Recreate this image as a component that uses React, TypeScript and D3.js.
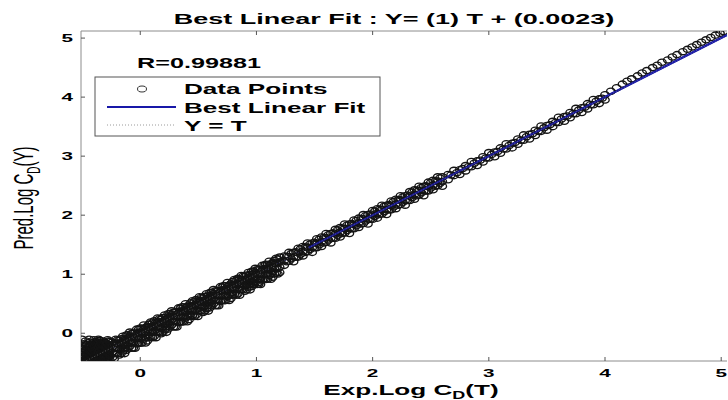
import React from 'react';
import * as d3 from 'd3';

const W = 728;
const H = 400;

const xTicks = [0, 1, 2, 3, 4, 5];
const yTicks = [0, 1, 2, 3, 4, 5];
const xDomain = [-0.51, 5.05];
const yDomain = [-0.47, 5.12];
const fitSlope = 1;
const fitIntercept = 0.0023;
const fitVisibleFrom = 1.45;
const titleText = 'Best Linear Fit : Y= (1) T + (0.0023)';
const rText = 'R=0.99881';
const legendLabels = ['Data Points', 'Best Linear Fit', 'Y = T'];

// rows: [T, Y1, Y2, ...]
const blobRows = [
  [-0.50, -0.47, -0.40, -0.33, -0.26, -0.10],
  [-0.49, -0.46, -0.39, -0.32, -0.25, -0.18],
  [-0.48, -0.45, -0.38, -0.30, -0.22],
  [-0.47, -0.44, -0.36, -0.28, -0.20, -0.13],
  [-0.46, -0.47, -0.42, -0.35, -0.27, -0.19],
  [-0.45, -0.47, -0.40, -0.32, -0.24],
  [-0.44, -0.44, -0.37, -0.29, -0.21, -0.10],
  [-0.43, -0.45, -0.38, -0.31, -0.23, -0.15],
  [-0.42, -0.46, -0.40, -0.33, -0.25, -0.17],
  [-0.41, -0.47, -0.41, -0.34, -0.27, -0.19],
  [-0.40, -0.43, -0.36, -0.28, -0.20, -0.11],
  [-0.39, -0.44, -0.37, -0.30, -0.22, -0.14],
  [-0.38, -0.47, -0.41, -0.34, -0.26, -0.18],
  [-0.37, -0.46, -0.40, -0.33, -0.25, -0.17],
  [-0.36, -0.44, -0.38, -0.31, -0.23, -0.15, -0.10],
  [-0.35, -0.43, -0.36, -0.28, -0.20, -0.12],
  [-0.34, -0.46, -0.40, -0.33, -0.25, -0.17],
  [-0.33, -0.47, -0.41, -0.34, -0.26, -0.18],
  [-0.32, -0.43, -0.36, -0.29, -0.21, -0.13],
  [-0.31, -0.44, -0.38, -0.31, -0.23, -0.15],
  [-0.30, -0.45, -0.39, -0.32, -0.24, -0.16],
  [-0.29, -0.46, -0.40, -0.33, -0.25, -0.17],
  [-0.28, -0.42, -0.35, -0.27, -0.19, -0.11],
  [-0.27, -0.43, -0.36, -0.29, -0.21, -0.13],
  [-0.26, -0.46, -0.38, -0.30, -0.22, -0.14],
];

const bandRows = [
  [-0.24, -0.41, -0.32, -0.23, -0.15],
  [-0.225, -0.435, -0.345, -0.255, -0.175],
  [-0.21, -0.34, -0.25, -0.17, -0.10],
  [-0.195, -0.345, -0.255, -0.165, -0.115],
  [-0.18, -0.37, -0.28, -0.20, -0.12],
  [-0.165, -0.345, -0.255, -0.165, -0.095],
  [-0.15, -0.30, -0.21, -0.13, -0.05],
  [-0.135, -0.345, -0.255, -0.165, -0.085],
  [-0.12, -0.29, -0.20, -0.11, -0.03],
  [-0.105, -0.255, -0.165, -0.075, -0.025],
  [-0.09, -0.22, -0.13, -0.05, 0.02],
  [-0.075, -0.255, -0.165, -0.075, -0.005],
  [-0.06, -0.25, -0.16, -0.08, 0.00],
  [-0.045, -0.255, -0.165, -0.075, 0.005],
  [-0.03, -0.18, -0.09, -0.01, 0.07],
  [-0.015, -0.165, -0.075, 0.015, 0.065],
  [0.00, -0.17, -0.08, 0.01, 0.09],
  [0.015, -0.165, -0.075, 0.015, 0.085],
  [0.03, -0.10, -0.01, 0.07, 0.14],
  [0.045, -0.165, -0.075, 0.015, 0.095],
  [0.06, -0.13, -0.04, 0.04, 0.12],
  [0.075, -0.075, 0.015, 0.105, 0.155],
  [0.09, -0.06, 0.03, 0.11, 0.19],
  [0.105, -0.075, 0.015, 0.105, 0.175],
  [0.12, -0.05, 0.04, 0.13, 0.21],
  [0.135, -0.075, 0.015, 0.105, 0.185],
  [0.15, 0.02, 0.11, 0.19, 0.26],
  [0.165, 0.015, 0.105, 0.195, 0.245],
  [0.18, -0.01, 0.08, 0.16, 0.24],
  [0.195, 0.015, 0.105, 0.195, 0.265],
  [0.21, 0.06, 0.15, 0.23, 0.31],
  [0.225, 0.015, 0.105, 0.195, 0.275],
  [0.24, 0.07, 0.16, 0.25, 0.33],
  [0.255, 0.105, 0.195, 0.285, 0.335],
  [0.27, 0.14, 0.23, 0.31, 0.38],
  [0.285, 0.105, 0.195, 0.285, 0.355],
  [0.30, 0.11, 0.20, 0.28, 0.36],
  [0.315, 0.105, 0.195, 0.285, 0.365],
  [0.33, 0.18, 0.27, 0.35, 0.43],
  [0.345, 0.195, 0.285, 0.375, 0.425],
  [0.36, 0.19, 0.28, 0.37, 0.45],
  [0.375, 0.195, 0.285, 0.375, 0.445],
  [0.39, 0.26, 0.35, 0.43, 0.50],
  [0.405, 0.195, 0.285, 0.375, 0.455],
  [0.42, 0.23, 0.32, 0.40, 0.48],
  [0.435, 0.285, 0.375, 0.465, 0.515],
  [0.45, 0.30, 0.39, 0.47, 0.55],
  [0.465, 0.285, 0.375, 0.465, 0.535],
  [0.48, 0.31, 0.40, 0.49, 0.57],
  [0.495, 0.285, 0.375, 0.465, 0.545],
  [0.51, 0.38, 0.47, 0.55, 0.62],
  [0.525, 0.375, 0.465, 0.555, 0.605],
  [0.54, 0.35, 0.44, 0.52, 0.60],
  [0.555, 0.375, 0.465, 0.555, 0.625],
  [0.57, 0.42, 0.51, 0.59, 0.67],
  [0.585, 0.375, 0.465, 0.555, 0.635],
  [0.60, 0.43, 0.52, 0.61, 0.69],
  [0.615, 0.465, 0.555, 0.645, 0.695],
  [0.63, 0.50, 0.59, 0.67, 0.74],
  [0.645, 0.465, 0.555, 0.645, 0.715],
  [0.66, 0.47, 0.56, 0.64, 0.72],
  [0.675, 0.465, 0.555, 0.645, 0.725],
  [0.69, 0.54, 0.63, 0.71, 0.79],
  [0.705, 0.555, 0.645, 0.735, 0.785],
  [0.72, 0.55, 0.64, 0.73, 0.81],
  [0.735, 0.555, 0.645, 0.735, 0.805],
  [0.75, 0.62, 0.71, 0.79, 0.86],
  [0.765, 0.555, 0.645, 0.735, 0.815],
  [0.78, 0.59, 0.68, 0.76, 0.84],
  [0.795, 0.645, 0.735, 0.825, 0.875],
  [0.81, 0.66, 0.75, 0.83, 0.91],
  [0.825, 0.645, 0.735, 0.825, 0.895],
  [0.84, 0.67, 0.76, 0.85, 0.93],
  [0.855, 0.645, 0.735, 0.825, 0.905],
  [0.87, 0.74, 0.83, 0.91, 0.98],
  [0.885, 0.735, 0.825, 0.915, 0.965],
  [0.90, 0.71, 0.80, 0.88, 0.96],
  [0.915, 0.735, 0.825, 0.915, 0.985],
  [0.93, 0.78, 0.87, 0.95, 1.03],
  [0.945, 0.735, 0.825, 0.915, 0.995],
  [0.96, 0.79, 0.88, 0.97, 1.05],
  [0.975, 0.825, 0.915, 1.005, 1.055],
  [0.99, 0.86, 0.95, 1.03, 1.10],
  [1.005, 0.825, 0.915, 1.005, 1.075],
  [1.02, 0.83, 0.92, 1.00, 1.08],
  [1.035, 0.825, 0.915, 1.005, 1.085],
  [1.05, 0.90, 0.99, 1.07, 1.15],
  [1.065, 0.915, 1.005, 1.095, 1.145],
  [1.08, 0.91, 1.00, 1.09, 1.17],
  [1.095, 0.915, 1.005, 1.095, 1.165],
  [1.11, 0.98, 1.07, 1.15, 1.22],
  [1.125, 0.915, 1.005, 1.095, 1.175],
  [1.14, 0.95, 1.04, 1.12, 1.20],
  [1.155, 1.005, 1.095, 1.185, 1.235],
  [1.17, 1.02, 1.11, 1.19, 1.27],
  [1.185, 1.005, 1.095, 1.185, 1.255],
  [1.20, 1.03, 1.12, 1.21, 1.29],
];

const outlierRows = [
  [0.90, 0.82],
  [0.94, 0.84],
  [0.98, 0.83],
  [1.02, 0.86],
];

const midRows = [
  [1.24, 1.15, 1.23, 1.31],
  [1.26, 1.21, 1.30],
  [1.28, 1.22, 1.30, 1.37],
  [1.30, 1.26, 1.35],
  [1.32, 1.21, 1.29, 1.37],
  [1.34, 1.29, 1.38],
  [1.36, 1.29, 1.36, 1.44],
  [1.38, 1.34, 1.43],
  [1.40, 1.31, 1.39, 1.47],
  [1.42, 1.37, 1.46],
  [1.44, 1.38, 1.46, 1.53],
  [1.46, 1.42, 1.51],
  [1.48, 1.37, 1.45, 1.53],
  [1.50, 1.45, 1.54],
  [1.52, 1.45, 1.52, 1.60],
  [1.54, 1.50, 1.59],
  [1.56, 1.47, 1.55, 1.63],
  [1.58, 1.53, 1.62],
  [1.60, 1.54, 1.62, 1.69],
  [1.62, 1.58, 1.67],
  [1.64, 1.53, 1.61, 1.69],
  [1.66, 1.61, 1.70],
  [1.68, 1.61, 1.68, 1.76],
  [1.70, 1.66, 1.75],
  [1.72, 1.63, 1.71, 1.79],
  [1.74, 1.69, 1.78],
  [1.76, 1.70, 1.78, 1.85],
  [1.78, 1.74, 1.83],
  [1.80, 1.69, 1.77, 1.85],
  [1.82, 1.77, 1.86],
  [1.84, 1.77, 1.84, 1.92],
  [1.86, 1.82, 1.91],
  [1.88, 1.79, 1.87, 1.95],
  [1.90, 1.85, 1.94],
  [1.92, 1.86, 1.94, 2.01],
  [1.94, 1.90, 1.99],
  [1.96, 1.85, 1.93, 2.01],
  [1.98, 1.93, 2.02],
  [2.00, 1.93, 2.00, 2.08],
  [2.02, 1.98, 2.07],
  [2.04, 1.95, 2.03, 2.11],
  [2.06, 2.01, 2.10],
  [2.08, 2.02, 2.10, 2.17],
  [2.10, 2.06, 2.15],
  [2.12, 2.01, 2.09, 2.17],
  [2.14, 2.09, 2.18],
  [2.16, 2.09, 2.16, 2.24],
  [2.18, 2.14, 2.23],
  [2.20, 2.11, 2.19, 2.27],
  [2.22, 2.17, 2.26],
  [2.24, 2.18, 2.26, 2.33],
  [2.26, 2.22, 2.31],
  [2.28, 2.17, 2.25, 2.33],
  [2.30, 2.25, 2.34],
  [2.32, 2.25, 2.32, 2.40],
  [2.34, 2.30, 2.39],
  [2.36, 2.27, 2.35, 2.43],
  [2.38, 2.33, 2.42],
  [2.40, 2.34, 2.42, 2.49],
  [2.42, 2.38, 2.47],
  [2.44, 2.33, 2.41, 2.49],
  [2.46, 2.41, 2.50],
  [2.48, 2.41, 2.48, 2.56],
  [2.50, 2.46, 2.55],
  [2.52, 2.43, 2.51, 2.59],
  [2.54, 2.49, 2.58],
  [2.56, 2.50, 2.58, 2.65],
  [2.58, 2.54, 2.63],
  [2.60, 2.49, 2.57, 2.65],
];

const upperRows = [
  [2.65, 2.60, 2.69], [2.675, 2.68],
  [2.70, 2.67, 2.76], [2.725, 2.72],
  [2.75, 2.69, 2.77], [2.775, 2.79],
  [2.80, 2.75, 2.84], [2.825, 2.82],
  [2.85, 2.82, 2.91], [2.875, 2.88],
  [2.90, 2.84, 2.92], [2.925, 2.93],
  [2.95, 2.90, 2.99], [2.975, 2.97],
  [3.00, 2.97, 3.06], [3.025, 3.03],
  [3.05, 2.99, 3.07], [3.075, 3.08],
  [3.10, 3.05, 3.14], [3.125, 3.12],
  [3.15, 3.12, 3.21], [3.175, 3.18],
  [3.20, 3.14, 3.22], [3.225, 3.23],
  [3.25, 3.20, 3.29], [3.275, 3.27],
  [3.30, 3.27, 3.36], [3.325, 3.33],
  [3.35, 3.29, 3.37], [3.375, 3.38],
  [3.40, 3.35, 3.44], [3.425, 3.42],
  [3.45, 3.42, 3.51], [3.475, 3.48],
  [3.50, 3.44, 3.52], [3.525, 3.53],
  [3.55, 3.50, 3.59], [3.575, 3.57],
  [3.60, 3.57, 3.66], [3.625, 3.63],
  [3.65, 3.59, 3.67], [3.675, 3.68],
  [3.70, 3.65, 3.74], [3.725, 3.72],
  [3.75, 3.72, 3.81], [3.775, 3.78],
  [3.80, 3.74, 3.82], [3.825, 3.83],
  [3.85, 3.80, 3.89], [3.875, 3.87],
  [3.90, 3.87, 3.96], [3.925, 3.93],
  [3.95, 3.89, 3.97], [3.975, 3.98],
  [4.00, 3.95, 4.04],
];

const topRows = [
  [4.05, 4.10], [4.10, 4.16], [4.15, 4.22], [4.19, 4.27], [4.23, 4.31],
  [4.28, 4.36], [4.32, 4.41], [4.36, 4.45], [4.41, 4.50], [4.45, 4.54],
  [4.49, 4.59], [4.54, 4.63], [4.58, 4.68], [4.62, 4.72], [4.67, 4.77],
  [4.71, 4.81], [4.75, 4.85], [4.79, 4.89], [4.83, 4.93], [4.87, 4.97],
  [4.91, 5.01], [4.95, 5.05], [4.99, 5.08], [5.02, 5.11],
];

const allRows = [...blobRows, ...bandRows, ...outlierRows, ...midRows, ...upperRows, ...topRows];
const points: [number, number][] = allRows.flatMap(([t, ...ys]) => ys.map((y) => [t, y] as [number, number]));

const FONT = '"Liberation Sans", Arial, Helvetica, sans-serif';
const SX = 1.8;

const plot = { left: 81, right: 727, top: 31, bottom: 361 };

function SText(props: any) {
  const { x, y, anchor = 'start', size = 14, weight = 'bold', fill = '#000', children } = props;
  return (
    <text
      transform={`translate(${x},${y}) scale(${SX},1)`}
      textAnchor={anchor}
      fontSize={size}
      fontWeight={weight}
      fontFamily={FONT}
      fill={fill}
    >
      {children}
    </text>
  );
}

export default function App() {
  const x = d3.scaleLinear().domain(xDomain).range([plot.left, plot.right]);
  const y = d3.scaleLinear().domain(yDomain).range([plot.bottom, plot.top]);

  const fitLine = d3
    .line<number>()
    .x((t) => x(t))
    .y((t) => y(fitSlope * t + fitIntercept));
  const idLine = d3
    .line<number>()
    .x((t) => x(t))
    .y((t) => y(t));
  const lineTs = [xDomain[0], xDomain[1]];
  const upperTs = [fitVisibleFrom, xDomain[1]];

  const axisColor = '#8c8c8c';
  const lg = { x0: 95, y0: 77, x1: 380, y1: 136 };

  return (
    <svg
      width={W}
      height={H}
      viewBox={`0 0 ${W} ${H}`}
      style={{ position: 'absolute', left: 0, top: 0, background: '#fff' }}
    >
      <defs>
        <clipPath id="plotClip">
          <rect x={plot.left} y={plot.top} width={plot.right - plot.left} height={plot.bottom - plot.top} />
        </clipPath>
      </defs>
      <rect x={0} y={0} width={W} height={H} fill="#fff" />

      {/* axes box */}
      <line x1={plot.left} x2={plot.left} y1={plot.top} y2={plot.bottom} stroke={axisColor} />
      <line x1={plot.left} x2={plot.right} y1={plot.bottom} y2={plot.bottom} stroke={axisColor} />
      <line x1={plot.left} x2={plot.right} y1={plot.top} y2={plot.top} stroke={axisColor} />

      {xTicks.map((t) => (
        <g key={'xt' + t}>
          <line x1={x(t)} x2={x(t)} y1={plot.bottom} y2={plot.bottom - 4} stroke="#555" />
          <line x1={x(t)} x2={x(t)} y1={plot.top} y2={plot.top + 4} stroke="#555" />
          <SText x={x(t)} y={377} anchor="middle" size={11.5}>
            {String(t)}
          </SText>
        </g>
      ))}
      {yTicks.map((t) => (
        <g key={'yt' + t}>
          <line x1={plot.left} x2={plot.left + 4} y1={y(t)} y2={y(t)} stroke="#555" />
          <SText x={73} y={y(t) + 4} anchor="end" size={11.5}>
            {String(t)}
          </SText>
        </g>
      ))}

      <g clipPath="url(#plotClip)">
        <path d={fitLine(lineTs) || ''} fill="none" stroke="#1818a8" strokeWidth={2.4} />
        {points.map(([t, v], i) => (
          <ellipse key={i} cx={x(t)} cy={y(v)} rx={4.2} ry={3.1} fill="none" stroke="#141414" strokeWidth={1.35} />
        ))}
        <path d={fitLine(upperTs) || ''} fill="none" stroke="#1818a8" strokeWidth={2} opacity={0.85} />
        <path d={idLine(lineTs) || ''} fill="none" stroke="#9a9a9a" strokeWidth={1} strokeDasharray="1,2" opacity={0.5} />
      </g>

      {/* title */}
      <SText x={394} y={24} anchor="middle" size={15}>
        {titleText}
      </SText>

      {/* R value */}
      <SText x={137} y={68} size={14}>
        {rText}
      </SText>

      {/* legend */}
      <rect x={lg.x0} y={lg.y0} width={lg.x1 - lg.x0} height={lg.y1 - lg.y0} fill="#fff" stroke="#555" strokeWidth={1} />
      <ellipse cx={142} cy={89} rx={4.5} ry={3} fill="none" stroke="#333" strokeWidth={1} />
      <line x1={107} x2={176} y1={107} y2={107} stroke="#1818a8" strokeWidth={2.2} />
      <line x1={107} x2={176} y1={125} y2={125} stroke="#9a9a9a" strokeWidth={1} strokeDasharray="1,2" />
      <SText x={184} y={94} size={14.5}>
        {legendLabels[0]}
      </SText>
      <SText x={184} y={113} size={14.5}>
        {legendLabels[1]}
      </SText>
      <SText x={184} y={131} size={14.5}>
        {legendLabels[2]}
      </SText>

      {/* x label */}
      <text
        transform={`translate(411,395) scale(${SX},1)`}
        textAnchor="middle"
        fontSize={14.5}
        fontWeight="bold"
        fontFamily={FONT}
      >
        Exp.Log C<tspan fontSize={10} dy={4}>D</tspan>
        <tspan dy={-4}>(T)</tspan>
      </text>

      {/* y label */}
      <text
        transform={`translate(33,198) scale(${SX},1) rotate(-90)`}
        textAnchor="middle"
        fontSize={15}
        fontWeight="normal"
        fontFamily={FONT}
      >
        Pred.Log C<tspan fontSize={10} dy={4}>D</tspan>
        <tspan dy={-4}>(Y)</tspan>
      </text>
    </svg>
  );
}
